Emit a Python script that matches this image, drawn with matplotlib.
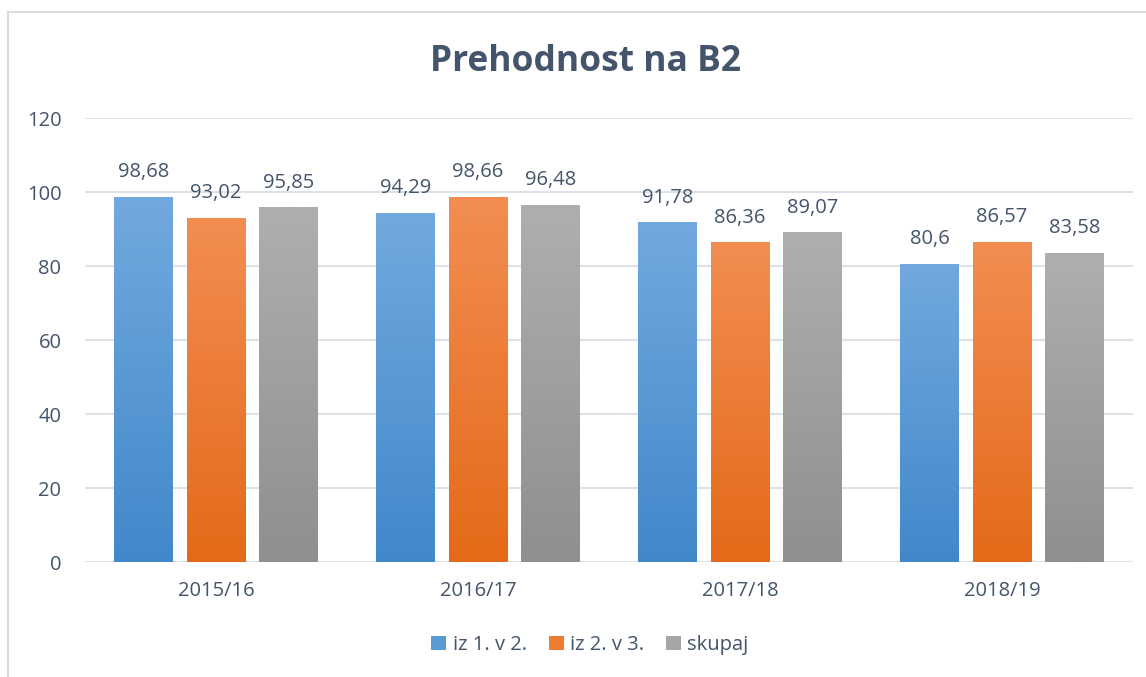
import numpy as np
import matplotlib
matplotlib.use('Agg')
import matplotlib.pyplot as plt
from matplotlib.colors import LinearSegmentedColormap
from matplotlib.lines import Line2D
from matplotlib.patches import Patch

categories = ['2015/16', '2016/17', '2017/18', '2018/19']
series_names = ['iz 1. v 2.', 'iz 2. v 3.', 'skupaj']
values = [
    [98.68, 94.29, 91.78, 80.6],
    [93.02, 98.66, 86.36, 86.57],
    [95.85, 96.48, 89.07, 83.58],
]
labels = [
    ['98,68', '94,29', '91,78', '80,6'],
    ['93,02', '98,66', '86,36', '86,57'],
    ['95,85', '96,48', '89,07', '83,58'],
]
yticks = [0, 20, 40, 60, 80, 100, 120]

# (top colour, bottom colour) for the gradient fill
grads = [('#72a9de', '#4188cb'), ('#f38d52', '#e36a18'), ('#afafaf', '#8f8f8f')]
mid = ['#5b9bd5', '#ed7d31', '#a5a5a5']
text_col = '#44546a'

plt.rcParams['font.family'] = ['Open Sans', 'DejaVu Sans']

fig = plt.figure(figsize=(11.46, 6.77), dpi=100)
ax = fig.add_axes([85 / 1146, 1 - 562 / 677, (1133 - 85) / 1146, (562 - 118) / 677])

# outer chart frame (top and left visible)
fig.add_artist(Line2D([8 / 1146, 1.01], [1 - 12 / 677, 1 - 12 / 677], color='#d9dde3', lw=1.5, transform=fig.transFigure))
fig.add_artist(Line2D([8 / 1146, 8 / 1146], [-0.01, 1 - 12 / 677], color='#d9dde3', lw=1.5, transform=fig.transFigure))

x = np.arange(len(categories))
width = 0.225
pitch = 0.277

for i in range(len(series_names)):
    pos = x + (i - 1) * pitch
    bars = ax.bar(pos, values[i], width, color='none', edgecolor='none', zorder=3)
    cmap = LinearSegmentedColormap.from_list('g%d' % i, [grads[i][1], grads[i][0]])
    for b, lab in zip(bars, labels[i]):
        bx, bw, bh = b.get_x(), b.get_width(), b.get_height()
        grad = np.linspace(0, 1, 256).reshape(-1, 1)
        im = ax.imshow(grad, cmap=cmap, origin='lower', aspect='auto',
                       extent=[bx, bx + bw, 0, bh], zorder=3)
        im.set_clip_path(b)
        ax.text(bx + bw / 2, bh + 4.0, lab, ha='center', va='bottom',
                fontsize=14.5, color=text_col, zorder=4)

ax.set_xlim(-0.5, 3.5)
ax.set_ylim(0, 120)
ax.set_yticks(yticks)
ax.set_xticks(x)
ax.set_xticklabels(categories)
ax.tick_params(axis='both', length=0, labelsize=14.5, labelcolor=text_col)
ax.tick_params(axis='y', pad=17)
ax.tick_params(axis='x', pad=14)
ax.grid(axis='y', color='#dde2e8', lw=1.5, zorder=0)
for s in ax.spines.values():
    s.set_visible(False)

fig.text(585 / 1146, 1 - 62 / 677, 'Prehodnost na B2', ha='center', va='center',
         fontsize=25.5, fontweight='bold', color=text_col)

handles = [Patch(facecolor=mid[i], edgecolor='none') for i in range(3)]
fig.legend(handles, series_names, loc='center', bbox_to_anchor=(590 / 1146, 1 - 645 / 677),
           ncol=3, frameon=False, fontsize=14.5, labelcolor=text_col,
           handlelength=0.75, handleheight=0.75, handletextpad=0.3, columnspacing=1.1)

fig.savefig('out.png', dpi=100)
